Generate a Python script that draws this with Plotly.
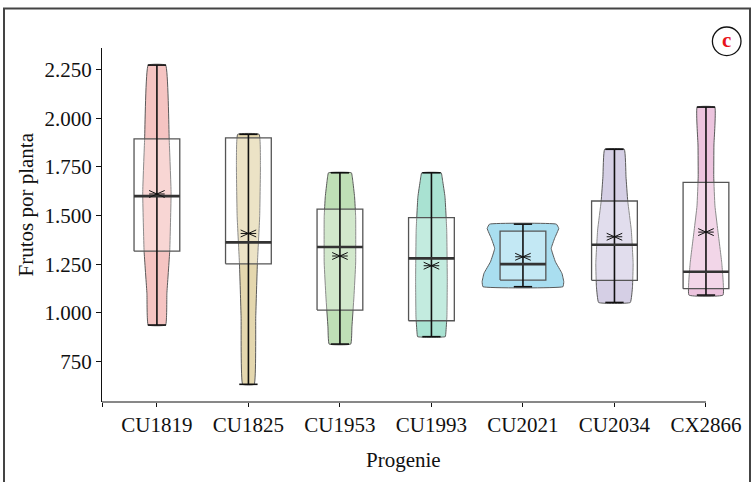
import plotly.graph_objects as go

# ---- data -------------------------------------------------------------
progenies = ["CU1819", "CU1825", "CU1953", "CU1993", "CU2021", "CU2034", "CX2866"]

min_vals = [937, 632, 839, 877, 1134, 1053, 1091]
max_vals = [2274, 1918, 1720, 1720, 1456, 1841, 2058]
q1_vals = [1317, 1252, 1014, 959, 1168, 1167, 1124]
q3_vals = [1895, 1900, 1533, 1489, 1420, 1575, 1671]
median_vals = [1600, 1362, 1338, 1280, 1250, 1350, 1211]
mean_vals = [1611, 1408, 1292, 1242, 1288, 1391, 1415]

# kernel density profiles: (fruit count, half-width in category units)
density_profiles = [
    [(2274, 0.095), (1895, 0.134), (1616, 0.155), (1317, 0.140), (1100, 0.109), (937, 0.095)],
    [(1918, 0.117), (1751, 0.131), (1494, 0.123), (1254, 0.098), (979, 0.080), (632, 0.063)],
    [(1720, 0.125), (1680, 0.140), (1597, 0.160), (1494, 0.172), (1256, 0.172), (1082, 0.153),
     (928, 0.131), (839, 0.118)],
    [(1720, 0.106), (1680, 0.122), (1597, 0.148), (1425, 0.167), (1168, 0.173), (979, 0.169),
     (900, 0.158), (877, 0.151)],
    [(1456, 0.365), (1434, 0.391), (1383, 0.346), (1331, 0.309), (1262, 0.355), (1203, 0.426),
     (1160, 0.446), (1134, 0.437)],
    [(1841, 0.107), (1700, 0.126), (1575, 0.145), (1425, 0.184), (1254, 0.204), (1134, 0.197),
     (1053, 0.173)],
    [(2058, 0.096), (1863, 0.087), (1700, 0.085), (1550, 0.098), (1425, 0.129), (1254, 0.173),
     (1091, 0.186)],
]

fill_colors = ["#f5c4c2", "#e4d7ae", "#bfdfb6", "#a9e2d2", "#a9def0", "#d5cfe5", "#ecc4de"]

y_ticks = [750, 1000, 1250, 1500, 1750, 2000, 2250]
y_tick_text = [f"{v:,}".replace(",", ".") for v in y_ticks]

# ---- layout geometry ---------------------------------------------------
W, H = 753, 482
M_L, M_R, M_T, M_B = 102, 15, 48, 80
X_RANGE = [-0.6, 6.35]
Y_RANGE = [541, 2362]
BOX_HALF = 0.25
CAP_HALF = 0.1
FONT = "Liberation Serif"


def px_x(px):
    return (px - M_L) / (W - M_L - M_R)


def px_y(py):
    return (H - M_B - py) / (H - M_T - M_B)


fig = go.Figure()

for i, prof in enumerate(density_profiles):
    ys = [p[0] for p in prof]
    hw = [p[1] for p in prof]
    xs_poly = [i + w for w in hw] + [i - w for w in reversed(hw)] + [i + hw[0]]
    ys_poly = ys + list(reversed(ys)) + [ys[0]]
    fig.add_trace(go.Scatter(
        x=xs_poly, y=ys_poly, mode="lines", fill="toself",
        fillcolor=fill_colors[i],
        line=dict(color="#5a5a5a", width=1, shape="spline", smoothing=0.3),
        hoverinfo="skip", showlegend=False,
    ))

    # interquartile box (translucent white)
    fig.add_trace(go.Scatter(
        x=[i - BOX_HALF, i + BOX_HALF, i + BOX_HALF, i - BOX_HALF, i - BOX_HALF],
        y=[q1_vals[i], q1_vals[i], q3_vals[i], q3_vals[i], q1_vals[i]],
        mode="lines", fill="toself", fillcolor="rgba(255,255,255,0.3)",
        line=dict(color="#555555", width=1.3),
        hoverinfo="skip", showlegend=False,
    ))

    # range whisker with caps
    fig.add_trace(go.Scatter(
        x=[i, i, None, i - CAP_HALF, i + CAP_HALF, None, i - CAP_HALF, i + CAP_HALF],
        y=[min_vals[i], max_vals[i], None, min_vals[i], min_vals[i], None, max_vals[i], max_vals[i]],
        mode="lines", line=dict(color="#111111", width=1.6),
        hoverinfo="skip", showlegend=False,
    ))

    # median
    fig.add_trace(go.Scatter(
        x=[i - BOX_HALF, i + BOX_HALF], y=[median_vals[i], median_vals[i]],
        mode="lines", line=dict(color="#333333", width=2.6),
        hoverinfo="skip", showlegend=False,
    ))

    # mean asterisk
    dx, dy = 0.085, 18
    m = mean_vals[i]
    fig.add_trace(go.Scatter(
        x=[i - dx, i + dx, None, i - dx, i + dx, None, i - dx, i + dx],
        y=[m - dy, m + dy, None, m + dy, m - dy, None, m, m],
        mode="lines", line=dict(color="#111111", width=1),
        hoverinfo="skip", showlegend=False,
    ))

fig.update_layout(
    width=W, height=H,
    margin=dict(l=M_L, r=M_R, t=M_T, b=M_B),
    paper_bgcolor="white", plot_bgcolor="white",
    font=dict(family=FONT, size=21, color="#111111"),
    xaxis=dict(
        range=X_RANGE, showgrid=False, zeroline=False, showline=False,
        tickmode="array", tickvals=[X_RANGE[0]] + list(range(len(progenies))),
        ticktext=[""] + progenies,
        ticks="outside", ticklen=4, tickwidth=1, tickcolor="#111111",
        tickfont=dict(family=FONT, size=21),
    ),
    yaxis=dict(
        range=Y_RANGE, showgrid=False, zeroline=False,
        showline=True, linecolor="#111111", linewidth=1,
        tickmode="array", tickvals=y_ticks, ticktext=y_tick_text,
        ticks="outside", ticklen=5, tickwidth=1, tickcolor="#111111",
        tickfont=dict(family=FONT, size=21),
    ),
    shapes=[
        # x-axis baseline, ending at the last progeny
        dict(type="line", xref="x", yref="paper", x0=X_RANGE[0], x1=len(progenies) - 1,
             y0=0, y1=0, line=dict(color="#111111", width=1)),
        # panel frame
        dict(type="rect", xref="paper", yref="paper",
             x0=px_x(4), x1=px_x(750), y0=px_y(520), y1=px_y(8.5),
             line=dict(color="#444444", width=2)),
        # panel badge
        dict(type="circle", xref="paper", yref="paper",
             x0=px_x(726.7 - 14.3), x1=px_x(726.7 + 14.3),
             y0=px_y(41.3 + 14.3), y1=px_y(41.3 - 14.3),
             line=dict(color="#111111", width=1.3)),
    ],
    annotations=[
        dict(text="Frutos por planta", xref="paper", yref="paper",
             x=px_x(25), y=px_y(204.5), textangle=-90, showarrow=False,
             xanchor="center", yanchor="middle", font=dict(family=FONT, size=21)),
        dict(text="Progenie", xref="paper", yref="paper",
             x=px_x(403.5), y=px_y(460), showarrow=False,
             xanchor="center", yanchor="middle", font=dict(family=FONT, size=21)),
        dict(text="<b>c</b>", xref="paper", yref="paper",
             x=px_x(726.7), y=px_y(40), showarrow=False,
             xanchor="center", yanchor="middle",
             font=dict(family=FONT, size=21, color="#e8141c")),
    ],
)

fig.write_html("out.html")
